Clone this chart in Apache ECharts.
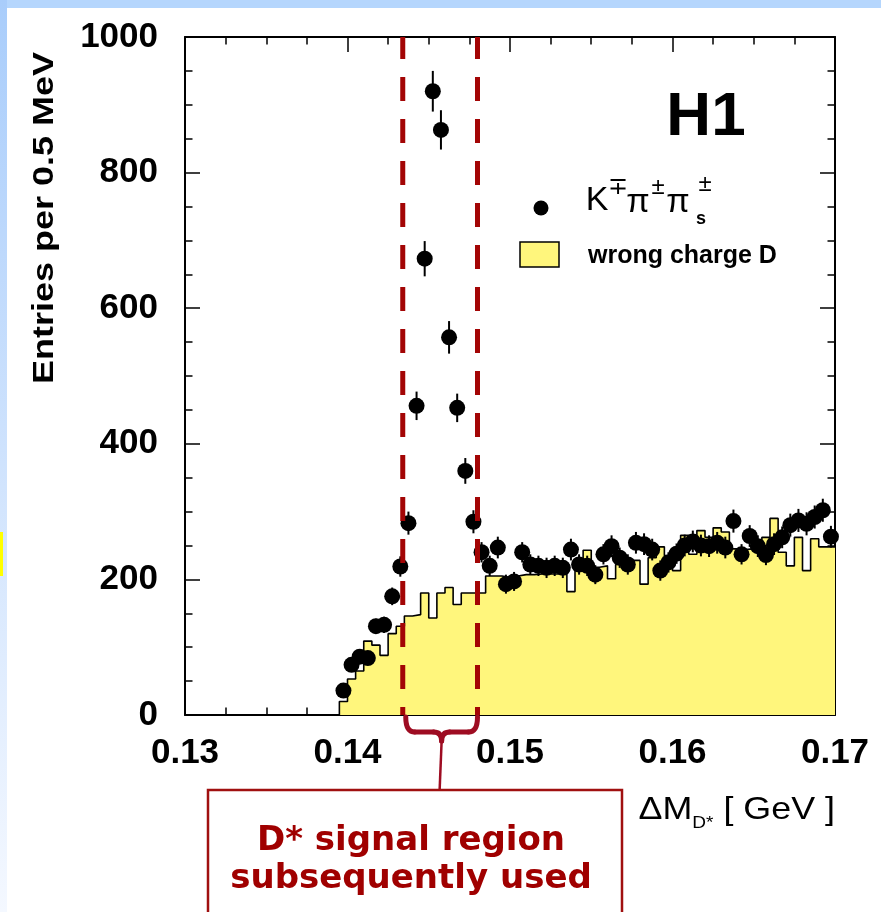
<!DOCTYPE html>
<html>
<head>
<meta charset="utf-8">
<script src="https://cdn.jsdelivr.net/npm/echarts@6/dist/echarts.min.js"></script>
<style>
  html, body { margin: 0; padding: 0; background: #ffffff; }
  #chart { width: 881px; height: 912px; }
</style>
</head>
<body>
<div id="chart"></div>
<script>
// Binning of the ΔM_D* distribution: 0.5 MeV bins starting at 139.5 MeV
const binStart = 0.1395;
const binWidth = 0.0005;

// Right-charge K∓π±π±s candidates per bin
const candidates = [
  36, 74, 86, 84, 131, 133, 175, 219, 283, 456,
  673, 920, 863, 557, 453, 360, 285, 240, 220, 247,
  193, 197, 240, 222, 220, 217, 220, 217, 244, 222,
  220, 207, 237, 249, 232, 222, 254, 252, 244, 213,
  225, 238, 250, 256, 250, 249, 254, 247, 286, 237,
  264, 249, 236, 252, 262, 280, 287, 282, 292, 302,
  263
];

// Statistical uncertainty on each candidate bin
const candidateErrors = [
  6, 9, 9, 9, 11, 12, 13, 15, 17, 21,
  26, 30, 29, 24, 21, 19, 17, 15, 15, 16,
  14, 14, 15, 15, 15, 15, 15, 15, 16, 15,
  15, 14, 15, 16, 15, 15, 16, 16, 16, 15,
  15, 15, 16, 16, 16, 16, 16, 16, 17, 15,
  16, 16, 15, 16, 16, 17, 17, 17, 17, 17,
  16
];

// Wrong-charge D combinations per bin (background shape)
const wrongCharge = [
  20, 53, 65, 109, 103, 88, 120, 131, 146, 148,
  180, 143, 180, 188, 163, 180, 180, 180, 205, 205,
  203, 205, 207, 207, 208, 208, 208, 208, 182, 215,
  243, 218, 220, 201, 222, 225, 228, 193, 232, 248,
  235, 213, 265, 237, 272, 262, 276, 270, 245, 244,
  245, 250, 262, 290, 240, 220, 262, 213, 260, 248,
  248
];

// Axis ranges and tick spacing
const xRange = [0.13, 0.17];
const xStep = 0.01;
const yRange = [0, 1000];
const yStep = 200;

// D* signal window drawn as dashed lines
const signalWindow = [0.1434, 0.1480];

const RED = '#a30505';
const CALLOUT = '#9e0c22';
const YELLOW = '#fff67c';
const FONT = '"Liberation Sans", Arial, Helvetica, sans-serif';

const binCenter = i => +(binStart + binWidth * (i + 0.5)).toFixed(5);
const binEdge = i => +(binStart + binWidth * i).toFixed(5);

const histData = [[binEdge(0), 0]]
  .concat(wrongCharge.map((v, i) => [binEdge(i), v]))
  .concat([[binEdge(wrongCharge.length), wrongCharge[wrongCharge.length - 1]]]);

const pointData = candidates.map((v, i) => [binCenter(i), v]);
const errorData = candidates.map((v, i) => [binCenter(i), v, candidateErrors[i]]);

function frameAxis(extra) {
  return Object.assign({
    type: 'value',
    axisLine: { show: true, onZero: false, lineStyle: { color: '#000', width: 2 } },
    axisTick: { show: true, inside: true, length: 15, lineStyle: { color: '#000', width: 1.5 } },
    minorTick: { show: true, splitNumber: 4, length: 7.5, lineStyle: { color: '#000', width: 1.5 } },
    splitLine: { show: false },
    minorSplitLine: { show: false }
  }, extra);
}

const labelStyle = {
  color: '#000',
  fontSize: 35,
  fontWeight: 'bold',
  fontFamily: FONT
};

// one dashed vertical line per edge of the signal window
const windowSeries = signalWindow.map((v, i) => ({
  name: 'window' + i,
  type: 'line',
  data: [[v, yRange[0]], [v, yRange[1]]],
  symbol: 'none',
  silent: true,
  clip: false,
  lineStyle: { color: RED, width: 5, type: [24, 18], dashOffset: 16 },
  emphasis: { disabled: true },
  z: 6
}));

const chart = echarts.init(document.getElementById('chart'), null, { renderer: 'canvas' });

chart.setOption({
  animation: false,
  backgroundColor: '#ffffff',
  grid: { left: 185, right: 46, top: 37, bottom: 197, containLabel: false, outerBoundsMode: 'none' },
  xAxis: [
    frameAxis({
      position: 'bottom', min: xRange[0], max: xRange[1], interval: xStep,
      axisLabel: Object.assign({ show: true, margin: 21, showMinLabel: true, showMaxLabel: true,
        formatter: v => v.toFixed(2) }, labelStyle)
    }),
    frameAxis({
      position: 'top', min: xRange[0], max: xRange[1], interval: xStep,
      axisLabel: { show: false }
    })
  ],
  yAxis: [
    frameAxis({
      position: 'left', min: yRange[0], max: yRange[1], interval: yStep,
      axisLabel: Object.assign({ show: true, margin: 27, showMinLabel: true, showMaxLabel: true,
        formatter: v => String(v) }, labelStyle)
    }),
    frameAxis({
      position: 'right', min: yRange[0], max: yRange[1], interval: yStep,
      axisLabel: { show: false }
    })
  ],
  series: [
    {
      name: 'wrong charge D',
      type: 'line',
      data: histData,
      step: 'end',
      symbol: 'none',
      silent: true,
      lineStyle: { color: '#000', width: 1.6 },
      areaStyle: { color: YELLOW, opacity: 1 },
      emphasis: { disabled: true },
      z: 2
    },
    {
      name: 'errors',
      type: 'custom',
      data: errorData,
      encode: { x: 0, y: 1 },
      silent: true,
      z: 3,
      renderItem: (params, api) => {
        const x = api.value(0), y = api.value(1), e = api.value(2);
        const p1 = api.coord([x, y - e]);
        const p2 = api.coord([x, y + e]);
        return {
          type: 'line',
          shape: { x1: p1[0], y1: p1[1], x2: p2[0], y2: p2[1] },
          style: { stroke: '#000', lineWidth: 2 }
        };
      }
    },
    {
      name: 'K∓π±π±s',
      type: 'scatter',
      data: pointData,
      symbol: 'circle',
      symbolSize: 16,
      itemStyle: { color: '#000', opacity: 1 },
      emphasis: { disabled: true },
      silent: true,
      z: 4
    }
  ].concat(windowSeries)
});

// Annotations: frame decoration, labels, legend and the signal-region callout
const xl = chart.convertToPixel({ xAxisIndex: 0 }, signalWindow[0]) + 3;
const xr = chart.convertToPixel({ xAxisIndex: 0 }, signalWindow[1]);
const y0 = chart.convertToPixel({ yAxisIndex: 0 }, yRange[0]);
const mid = (xl + xr) / 2;
const braceTop = y0 + 2;
const braceBar = y0 + 17;
const braceTip = y0 + 26;
const boxTop = 790;

const braceStyle = { stroke: CALLOUT, lineWidth: 5, lineCap: 'round', fill: null };
const brace = [
  { type: 'bezierCurve', z: 10, silent: true, style: braceStyle,
    shape: { x1: xl, y1: braceTop, cpx1: xl, cpy1: braceBar, x2: xl + 9, y2: braceBar } },
  { type: 'line', z: 10, silent: true, style: braceStyle,
    shape: { x1: xl + 9, y1: braceBar, x2: mid - 8, y2: braceBar } },
  { type: 'bezierCurve', z: 10, silent: true, style: braceStyle,
    shape: { x1: mid - 8, y1: braceBar, cpx1: mid, cpy1: braceBar, x2: mid, y2: braceTip } },
  { type: 'bezierCurve', z: 10, silent: true, style: braceStyle,
    shape: { x1: mid, y1: braceTip, cpx1: mid, cpy1: braceBar, x2: mid + 8, y2: braceBar } },
  { type: 'line', z: 10, silent: true, style: braceStyle,
    shape: { x1: mid + 8, y1: braceBar, x2: xr - 9, y2: braceBar } },
  { type: 'bezierCurve', z: 10, silent: true, style: braceStyle,
    shape: { x1: xr - 9, y1: braceBar, cpx1: xr, cpy1: braceBar, x2: xr, y2: braceTop } }
];

chart.setOption({
  graphic: [
    // slide border
    { type: 'rect', z: 0, shape: { x: 0, y: 0, width: 881, height: 8 }, style: { fill: '#b5d6fd' }, silent: true },
    { type: 'rect', z: 0, shape: { x: 0, y: 0, width: 7, height: 912 }, silent: true,
      style: { fill: new echarts.graphic.LinearGradient(0, 0, 0, 1, [
        { offset: 0, color: '#a9cdfb' }, { offset: 1, color: '#f4f8ff' }]) } },
    { type: 'rect', z: 1, shape: { x: 0, y: 532, width: 3, height: 44 }, style: { fill: '#ffff00' }, silent: true },

    // y-axis title
    { type: 'text', x: 45, y: 218, rotation: Math.PI / 2, scaleX: 1.2, silent: true,
      style: { text: 'Entries per 0.5 MeV', fill: '#000', font: 'bold 30px ' + FONT,
        align: 'center', verticalAlign: 'middle' } },

    // x-axis title
    { type: 'text', x: 835, y: 810, scaleX: 1.12, silent: true,
      style: {
        text: '{a|ΔM}{s|D*}{a| [ GeV ]}',
        align: 'right', verticalAlign: 'middle',
        rich: {
          a: { fontSize: 32, fontFamily: FONT, fill: '#000', lineHeight: 44 },
          s: { fontSize: 17, fontFamily: FONT, fill: '#000', lineHeight: 17, verticalAlign: 'bottom' }
        }
      } },

    // experiment tag
    { type: 'text', x: 706, y: 118, silent: true,
      style: { text: 'H1', fill: '#000', font: 'bold 62px ' + FONT, align: 'center', verticalAlign: 'middle' } },

    // legend: data points
    { type: 'circle', shape: { cx: 541, cy: 208, r: 7.5 }, style: { fill: '#000' }, silent: true },
    { type: 'text', x: 597, y: 201, silent: true,
      style: { text: 'K', fill: '#000', font: '34px ' + FONT, align: 'center', verticalAlign: 'middle' } },
    { type: 'text', x: 618, y: 187, silent: true,
      style: { text: '∓', fill: '#000', font: '24px ' + FONT, align: 'center', verticalAlign: 'middle' } },
    { type: 'text', x: 638, y: 203, silent: true,
      style: { text: 'π', fill: '#000', font: '34px ' + FONT, align: 'center', verticalAlign: 'middle' } },
    { type: 'text', x: 658, y: 187, silent: true,
      style: { text: '±', fill: '#000', font: '24px ' + FONT, align: 'center', verticalAlign: 'middle' } },
    { type: 'text', x: 678, y: 203, silent: true,
      style: { text: 'π', fill: '#000', font: '34px ' + FONT, align: 'center', verticalAlign: 'middle' } },
    { type: 'text', x: 705, y: 184, silent: true,
      style: { text: '±', fill: '#000', font: '24px ' + FONT, align: 'center', verticalAlign: 'middle' } },
    { type: 'text', x: 701, y: 219, silent: true,
      style: { text: 's', fill: '#000', font: 'bold 18px ' + FONT, align: 'center', verticalAlign: 'middle' } },

    // legend: wrong-charge histogram
    { type: 'rect', shape: { x: 520, y: 242, width: 39, height: 25 }, silent: true,
      style: { fill: YELLOW, stroke: '#000', lineWidth: 1.5 } },
    { type: 'text', x: 588, y: 256, silent: true,
      style: { text: 'wrong charge D', fill: '#000', font: 'bold 25px ' + FONT, align: 'left', verticalAlign: 'middle' } }
  ].concat(brace).concat([
    // signal-region callout
    { type: 'line', z: 10, silent: true,
      shape: { x1: mid, y1: braceTip, x2: mid - 2, y2: boxTop },
      style: { stroke: CALLOUT, lineWidth: 2.5 } },
    { type: 'rect', z: 10, silent: true, shape: { x: 208, y: boxTop, width: 414, height: 150 },
      style: { fill: '#ffffff', stroke: '#a01010', lineWidth: 2.5 } },
    { type: 'text', z: 11, x: 411, y: 841, silent: true,
      style: { text: 'D* signal region', fill: '#a00000', font: 'bold 34px "DejaVu Sans", sans-serif',
        align: 'center', verticalAlign: 'middle' } },
    { type: 'text', z: 11, x: 411, y: 879, silent: true,
      style: { text: 'subsequently used', fill: '#a00000', font: 'bold 34px "DejaVu Sans", sans-serif',
        align: 'center', verticalAlign: 'middle' } }
  ])
});
</script>
</body>
</html>
